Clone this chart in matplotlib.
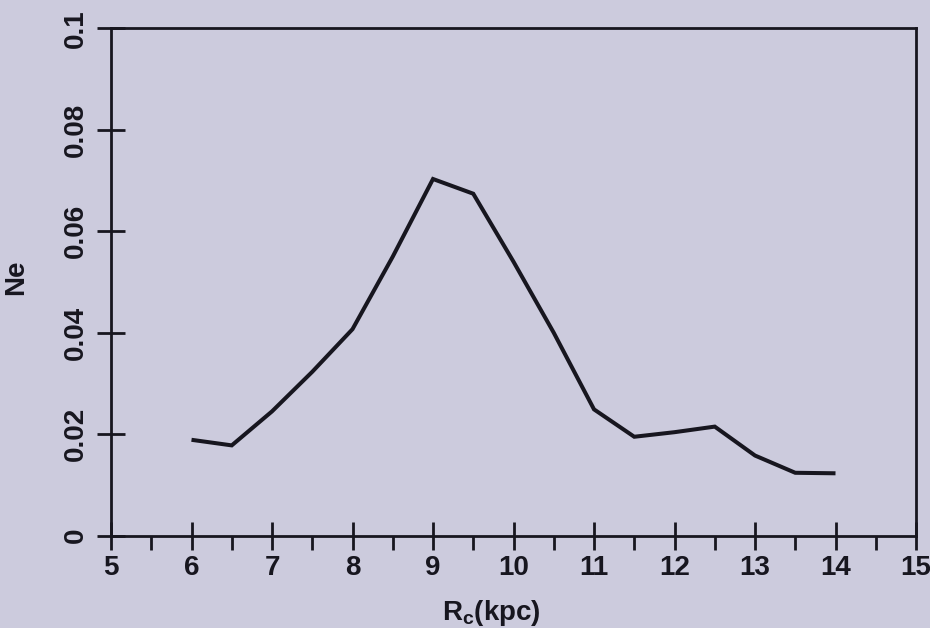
import matplotlib
matplotlib.use("Agg")
import matplotlib.pyplot as plt
from matplotlib.ticker import MultipleLocator, FixedLocator

# Data
r_kpc = [6.0, 6.5, 7.0, 7.5, 8.0, 8.5, 9.0, 9.5, 10.0, 10.5, 11.0, 11.5, 12.0, 12.5, 13.0, 13.5, 14.0]
ne = [0.0189, 0.0178, 0.0245, 0.0323, 0.0407, 0.0550, 0.0703, 0.0674, 0.0540, 0.0400,
      0.0249, 0.0195, 0.0204, 0.0215, 0.0158, 0.0124, 0.0123]
x_ticks = [5, 6, 7, 8, 9, 10, 11, 12, 13, 14, 15]
y_ticks = [0, 0.02, 0.04, 0.06, 0.08, 0.1]
y_tick_labels = ["0", "0.02", "0.04", "0.06", "0.08", "0.1"]
x_label = "R$_\\mathregular{c}$(kpc)"
y_label = "Ne"

bg = "#cccbdd"
ink = "#17161f"

plt.rcParams["font.family"] = ["Liberation Sans", "DejaVu Sans"]

fig = plt.figure(figsize=(9.3, 6.28), dpi=100, facecolor=bg)
ax = fig.add_axes([111/930, 1 - 535.7/628, (916 - 111)/930, (535.7 - 28.3)/628])
ax.set_facecolor(bg)

ax.plot(r_kpc, ne, color=ink, lw=2.9, solid_joinstyle="miter", solid_capstyle="butt")

ax.set_xlim(5, 15)
ax.set_ylim(0, 0.1)
ax.xaxis.set_major_locator(FixedLocator(x_ticks))
ax.xaxis.set_minor_locator(MultipleLocator(0.5))
ax.set_xticklabels([str(v) for v in x_ticks])
ax.yaxis.set_major_locator(FixedLocator(y_ticks))
ax.set_yticklabels(y_tick_labels)

for s in ax.spines.values():
    s.set_linewidth(2.0)
    s.set_color(ink)

ax.tick_params(axis="x", which="major", direction="inout", length=20, width=2.0,
               color=ink, labelsize=20, labelcolor=ink, pad=4)
ax.tick_params(axis="x", which="minor", direction="out", length=10, width=2.0, color=ink)
ax.tick_params(axis="y", which="major", direction="inout", length=20, width=2.0,
               color=ink, labelsize=20, labelcolor=ink, pad=6, labelrotation=90)
for lab in ax.get_yticklabels():
    lab.set_va("center")
for lab in ax.get_xticklabels() + ax.get_yticklabels():
    lab.set_fontweight("bold")

ax.set_xlabel(x_label, fontsize=20, fontweight="bold", color=ink)
ax.xaxis.set_label_coords((491 - 111) / 805, -0.122)
ax.set_ylabel(y_label, fontsize=20, fontweight="bold", color=ink)
ax.yaxis.set_label_coords((29 - 111) / 805, 0.51)

fig.savefig("out.png", dpi=100, facecolor=bg)
